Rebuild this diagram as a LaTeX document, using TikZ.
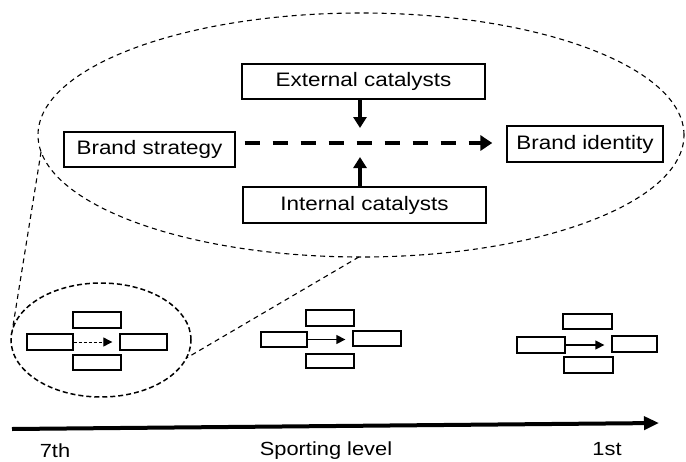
\documentclass[tikz,border=0pt]{standalone}
\usepackage{fontspec}
\setmainfont[FakeStretch=1.15]{Liberation Sans}
\usetikzlibrary{shapes.geometric,arrows.meta}
\begin{document}
\begin{tikzpicture}[x=1pt,y=-1pt,
  bigbox/.style={draw,line width=1.3pt,rectangle,inner sep=0pt,minimum height=35pt,
    font=\fontsize{19.5}{23}\selectfont},
  sbox/.style={draw,line width=1.3pt,rectangle,inner sep=0pt,minimum width=48pt,minimum height=16pt},
  bigell/.style={draw,ellipse,inner sep=0pt,outer sep=0pt,line width=1.1pt,dash pattern=on 5pt off 4pt},
  smallell/.style={draw,ellipse,inner sep=0pt,outer sep=0pt,line width=1.5pt,dash pattern=on 5pt off 3pt},
  zoomline/.style={line width=1.1pt,dash pattern=on 5pt off 4pt},
  lbl/.style={anchor=base,font=\fontsize{19}{22}\selectfont},
  smallarrow/.style={line width=1.3pt,-{Triangle[length=9pt,width=9pt]},shorten >=7pt}
]
\useasboundingbox (0,0) rectangle (686,461);

% big ellipse
\node[bigell,minimum width=646pt,minimum height=244pt] (big) at (361,135) {};
% small ellipse
\node[smallell,minimum width=180pt,minimum height=114pt] (small) at (101,340) {};
% zoom lines
\draw[zoomline] (big.183) -- (small.174);
\draw[zoomline] (big.269) -- (small.348);

% detailed diagram
\node[bigbox,minimum width=243pt] (ext) at (363.5,81.5) {External catalysts};
\node[bigbox,minimum width=171pt] (bs) at (149.5,149.5) {Brand strategy};
\node[bigbox,minimum width=156pt,minimum height=36pt] (bi) at (585,144) {Brand identity};
\node[bigbox,minimum width=243pt,minimum height=36pt] (int) at (364.5,205) {Internal catalysts};
\coordinate (mid) at (360,143);

\draw[line width=4.5pt,dash pattern=on 15pt off 13pt,-{Triangle[length=12pt,width=15pt]},
  shorten <=9pt,shorten >=14pt] (bs.east |- mid) -- (bi.west |- mid);
\draw[line width=3.5pt,-{Triangle[length=11pt,width=13pt]},shorten >=15pt]
  (mid |- ext.south) -- (mid);
\draw[line width=3.5pt,-{Triangle[length=11pt,width=13pt]},shorten >=14pt]
  (mid |- int.north) -- (mid);

% left small group
\node[sbox] (l1) at (97,320) {};
\node[sbox,minimum width=46pt] (l2) at (50,342) {};
\node[sbox,minimum width=47pt] (l3) at (143.5,342) {};
\node[sbox,minimum width=48pt,minimum height=15pt] (l4) at (97,362.5) {};
\draw[line width=0.9pt,dash pattern=on 3pt off 2pt,-{Triangle[length=9pt,width=9pt]},shorten >=7pt]
  (l2.east) -- (l3.west);

% middle small group
\node[sbox] (m1) at (330,318) {};
\node[sbox,minimum width=46pt,minimum height=15pt] (m2) at (284,339.5) {};
\node[sbox,minimum height=15pt] (m3) at (377,338.5) {};
\node[sbox,minimum height=14pt] (m4) at (330,361) {};
\draw[smallarrow] (m2.east) -- (m2.east -| m3.west);

% right small group
\node[sbox,minimum width=49pt,minimum height=15pt] (r1) at (587.5,321.5) {};
\node[sbox] (r2) at (541,345) {};
\node[sbox,minimum width=45pt] (r3) at (634.5,344) {};
\node[sbox,minimum width=49pt] (r4) at (588.5,365) {};
\draw[smallarrow] (r2.east) -- (r2.east -| r3.west);

% axis
\coordinate (ax0) at (12,429);
\coordinate (ax1) at (659,423);
\draw[line width=4pt,-{Triangle[length=15pt,width=13pt]}] (ax0) -- (ax1);
\node[lbl] (t7) at (55,457) {7th};
\node[lbl] (sl) at (326,455.5) {Sporting level};
\node[lbl] (t1) at (607,455) {1st};
\end{tikzpicture}
\end{document}
